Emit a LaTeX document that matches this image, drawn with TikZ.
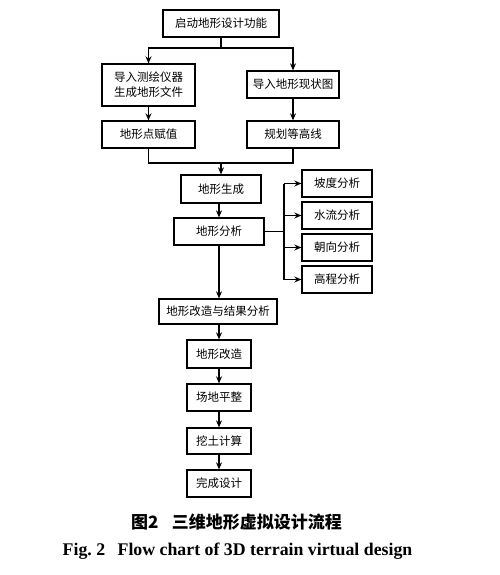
\documentclass[tikz,border=0pt]{standalone}
\usepackage{fontspec}
\setmainfont{Liberation Serif}
\newfontfamily\cjk{Noto Sans CJK SC}
\usetikzlibrary{arrows.meta}
\begin{document}
\begin{tikzpicture}[x=1pt,y=-1pt,
  box/.style={draw,line width=1.3pt,inner sep=0pt,align=center,
    font=\cjk\fontsize{11.5}{15}\selectfont},
  con/.style={line width=1.2pt},
  arr/.style={line width=1.2pt,-{Stealth[length=7pt,width=6pt]}}]
\useasboundingbox[fill=white] (0,0) rectangle (500,575);
\node[box,minimum width=116pt,minimum height=27pt] (start) at (221,23.5) {启动地形设计功能};
\node[box,minimum width=93pt,minimum height=42pt] (imp1) at (148.5,85) {导入测绘仪器\\生成地形文件};
\node[box,minimum width=92pt,minimum height=27pt] (imp2) at (293,84.5) {导入地形现状图};
\node[box,minimum width=93pt,minimum height=27pt] (pt) at (148.5,134.5) {地形点赋值};
\node[box,minimum width=92pt,minimum height=27pt] (plan) at (293,134.5) {规划等高线};
\node[box,minimum width=80pt,minimum height=28pt] (gen) at (221,189) {地形生成};
\node[box,minimum width=90pt,minimum height=27pt] (ana) at (219,231.5) {地形分析};
\node[box,minimum width=70pt,minimum height=27pt] (r1) at (337,183.5) {坡度分析};
\node[box,minimum width=70pt,minimum height=27pt] (r2) at (337,215.5) {水流分析};
\node[box,minimum width=70pt,minimum height=27pt] (r3) at (337,247.5) {朝向分析};
\node[box,minimum width=70pt,minimum height=27pt] (r4) at (337,279.5) {高程分析};
\node[box,minimum width=118pt,minimum height=25pt] (res) at (218,311.5) {地形改造与结果分析};
\node[box,minimum width=64pt,minimum height=28pt] (mod) at (219,354) {地形改造};
\node[box,minimum width=64pt,minimum height=27pt] (flat) at (219,397.5) {场地平整};
\node[box,minimum width=64pt,minimum height=26pt] (dig) at (219,441) {挖土计算};
\node[box,minimum width=64pt,minimum height=27pt] (done) at (219,483.5) {完成设计};
% top split
\coordinate (s0) at (start.south |- 0,48);
\draw[con] (start.south) -- (s0);
\draw[arr] (s0) -| (imp1.north);
\draw[arr] (s0) -| (imp2.north);
\draw[arr] (imp1) -- (pt);
\draw[arr] (imp2) -- (plan);
% merge
\coordinate (m0) at (gen.north |- 0,163);
\draw[con] (pt.south) |- (m0);
\draw[con] (plan.south) |- (m0);
\draw[arr] (m0) -- (gen.north);
\draw[arr] (gen.south -| ana.north) -- (ana.north);
% bracket
\coordinate (b0) at (284,0 |- ana.east);
\draw[con] (ana.east) -- (b0);
\coordinate (bt) at (284,0 |- r1.west);
\coordinate (bb) at (284,0 |- r4.west);
\draw[con] (bt) -- (bb);
\draw[arr] (bt) -- (r1.west);
\draw[arr] (284,0 |- r2.west) -- (r2.west);
\draw[arr] (284,0 |- r3.west) -- (r3.west);
\draw[arr] (bb) -- (r4.west);
% chain
\draw[arr] (ana.south) -- (ana.south |- res.north);
\draw[arr] (res.south -| mod.north) -- (mod.north);
\draw[arr] (mod) -- (flat);
\draw[arr] (flat) -- (dig);
\draw[arr] (dig) -- (done);
% captions
\node[font=\cjk\bfseries\fontsize{17}{20}\selectfont] (cap1) at (236.5,522) {图2\hspace{0.8em}三维地形虚拟设计流程};
\node[font=\bfseries\fontsize{17.8}{20}\selectfont] (cap2) at (237.5,551) {Fig.~2\hspace{0.7em}Flow chart of 3D terrain virtual design};
\end{tikzpicture}
\end{document}
